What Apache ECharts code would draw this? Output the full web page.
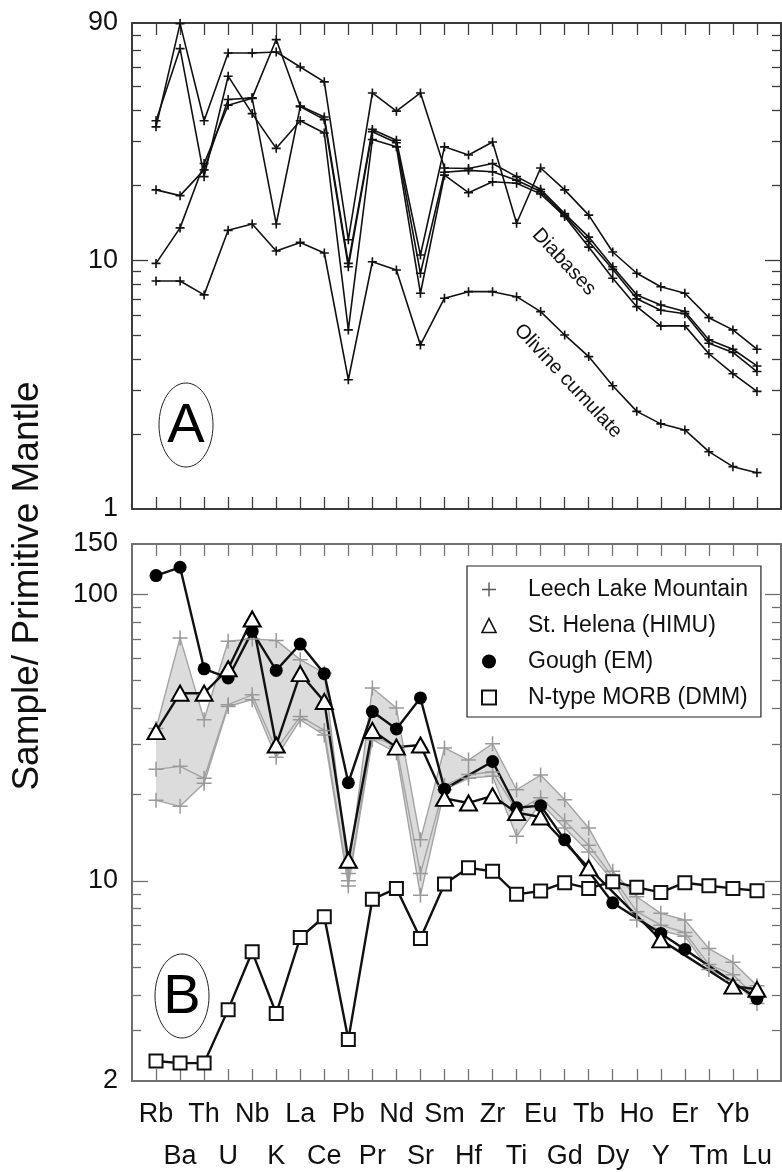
<!DOCTYPE html>
<html>
<head>
<meta charset="utf-8">
<script src="https://cdn.jsdelivr.net/npm/echarts@6/dist/echarts.min.js"></script>
<style>
html, body { margin: 0; padding: 0; background: #fff; }
#viz { width: 782px; height: 1172px; }
</style>
</head>
<body>
<div id="viz"></div>
<script>
var FONT = '"Liberation Sans", Arial, sans-serif';

// element order along the x axis
var elements = ['Rb','Ba','Th','U','Nb','K','La','Ce','Pb','Pr','Nd','Sr','Sm','Hf','Zr','Ti','Eu','Gd','Tb','Dy','Ho','Y','Er','Tm','Yb','Lu'];

// panel A : sample / primitive mantle
var diabase1 = [34.4, 89.5, 36.4, 68.2, 68.2, 68.8, 59.9, 52.2, 12.1, 47.1, 39.8, 47.1, 23.5, 23.4, 24.5, 21.7, 19.3, 15.4, 12.4, 9.42, 7.26, 6.61, 6.22, 4.79, 4.39, 3.76];
var diabase2 = [36.4, 71.0, 21.7, 55.0, 38.9, 28.2, 36.4, 32.5, 5.25, 30.6, 28.6, 7.37, 22.0, 18.7, 20.7, 20.4, 18.5, 15.0, 11.3, 8.47, 6.51, 5.45, 5.45, 4.21, 3.50, 2.97];
var diabase3 = [19.2, 18.2, 23.1, 44.3, 45.0, 77.2, 41.7, 37.7, 9.72, 33.6, 30.4, 10.5, 28.6, 26.5, 29.9, 14.1, 23.5, 19.2, 15.2, 10.8, 8.87, 7.83, 7.37, 5.88, 5.25, 4.39];
var diabase4 = [9.72, 13.5, 24.5, 42.0, 44.8, 14.0, 41.5, 36.8, 9.42, 32.9, 29.7, 8.87, 22.6, 23.0, 22.7, 21.0, 18.9, 15.2, 11.9, 9.20, 7.00, 6.30, 6.10, 4.64, 4.26, 3.57];
var olivine  = [8.26, 8.26, 7.26, 13.2, 14.0, 10.9, 11.8, 10.7, 3.31, 9.87, 9.14, 4.57, 7.04, 7.48, 7.48, 7.14, 6.22, 5.01, 4.10, 3.13, 2.47, 2.20, 2.08, 1.70, 1.48, 1.40];

// panel B
var llmHigh = [34.0, 70.5, 36.5, 68.6, 69.9, 69.1, 59.2, 53.1, 10.6, 47.1, 40.1, 13.9, 29.1, 26.4, 30.1, 20.8, 23.4, 19.2, 15.3, 10.8, 8.80, 7.70, 7.30, 5.80, 5.20, 4.30];
var llmMid  = [24.5, 25.1, 22.8, 41.2, 44.6, 28.7, 37.5, 33.5, 10.0, 32.0, 29.5, 10.6, 21.5, 23.5, 24.0, 17.6, 19.5, 16.2, 13.3, 10.3, 7.80, 7.00, 6.60, 5.10, 4.70, 3.90];
var llmLow  = [19.1, 18.2, 21.9, 40.6, 42.9, 27.0, 36.5, 32.3, 9.60, 31.1, 28.0, 8.90, 20.8, 22.8, 23.2, 14.3, 18.7, 15.3, 12.6, 10.0, 7.30, 6.70, 6.40, 4.90, 4.50, 3.73];
var helena  = [33.2, 45.2, 45.2, 55.0, 82.1, 29.8, 52.9, 42.3, 11.8, 33.5, 29.3, 29.8, 19.4, 18.7, 19.8, 17.3, 16.7, null, 11.1, null, null, 6.22, null, null, 4.29, 4.18];
var gough   = [116.4, 124.4, 55.0, 51.1, 74.3, 54.3, 67.1, 52.9, 22.0, 39.0, 33.9, 43.5, 20.9, null, 26.1, 18.0, 18.3, 13.9, null, 8.38, null, 6.55, 5.76, null, null, 3.88];
var morb    = [2.35, 2.31, 2.31, 3.55, 5.65, 3.44, 6.34, 7.49, 2.79, 8.62, 9.41, 6.29, 9.74, 11.1, 10.8, 8.97, 9.21, 9.85, 9.41, 9.93, 9.49, 9.11, 9.85, 9.61, 9.41, 9.23];

// y axis ticks / labels
var labelsA = [1, 10, 90];
var majorA = [10];
var minorA = [2, 3, 4, 5, 6, 7, 8, 9, 20, 30, 40, 50, 60, 70, 80];
var labelsB = [2, 10, 100, 150];
var majorB = [10, 100];
var minorB = [3, 4, 5, 6, 7, 8, 9, 20, 30, 40, 50, 60, 70, 80, 90];

var crossA = 'path://M4.1,0h1.8v10h-1.8z M0,4.1h10v1.8h-10z';
var crossB = 'path://M4.5,0h1v10h-1z M0,4.5h10v1h-10z';

function pairs(vals){
  return vals.map(function(v, i){ return [i, v]; });
}

function xAxes(grid, color, withLabels){
  var idx = elements.map(function(e, i){ return i; });
  var base = {gridIndex: grid, type: 'value', min: -1, max: 26, splitLine: {show: false}};
  var tick = {show: true, inside: true, length: 12, customValues: idx, lineStyle: {color: color, width: 1.3}};
  var line = {show: true, onZero: false, lineStyle: {color: color, width: 2}};
  var out = [
    Object.assign({}, base, {position: 'bottom', axisLine: line, axisTick: tick, axisLabel: {show: false}}),
    Object.assign({}, base, {position: 'top', axisLine: line, axisTick: tick, axisLabel: {show: false}})
  ];
  if (withLabels){
    // element names in two staggered rows: even indices on top, odd below
    [0, 1].forEach(function(row){
      var vals = idx.filter(function(i){ return i % 2 === row; });
      out.push(Object.assign({}, base, {
        position: 'bottom',
        axisLine: {show: false, onZero: false},
        axisTick: {show: false},
        axisLabel: {
          show: true, customValues: vals, margin: row === 0 ? 20 : 62,
          fontSize: 27, fontFamily: FONT, color: '#111',
          showMinLabel: true, showMaxLabel: true,
          formatter: function(v){ return elements[Math.round(v)]; }
        }
      }));
    });
  }
  return out;
}

function yAxes(grid, lo, hi, labels, major, minor, color){
  var base = {gridIndex: grid, type: 'log', logBase: 10, min: lo, max: hi, splitLine: {show: false}, minorTick: {show: false}};
  var out = [];
  ['left', 'right'].forEach(function(pos){
    out.push(Object.assign({}, base, {
      position: pos,
      axisLine: {show: true, onZero: false, lineStyle: {color: color, width: 2}},
      axisTick: {show: true, inside: true, length: 16, customValues: major, lineStyle: {color: color, width: 1.3}},
      axisLabel: pos === 'left'
        ? {show: true, customValues: labels, margin: 14, fontSize: 27, fontFamily: FONT, color: '#111', showMinLabel: true, showMaxLabel: true}
        : {show: false}
    }));
    out.push(Object.assign({}, base, {
      position: pos,
      axisLine: {show: false, onZero: false},
      axisTick: {show: true, inside: true, length: 9, customValues: minor, lineStyle: {color: color, width: 1.3}},
      axisLabel: {show: false}
    }));
  });
  return out;
}

function topLine(name, vals){
  return {
    name: name, type: 'line', xAxisIndex: 0, yAxisIndex: 0,
    data: pairs(vals), symbol: crossA, symbolSize: 9, showAllSymbol: true,
    itemStyle: {color: '#111'}, lineStyle: {color: '#111', width: 1.6}
  };
}

function greyLine(vals){
  return {
    name: 'Leech Lake Mountain', type: 'line', xAxisIndex: 2, yAxisIndex: 4,
    data: pairs(vals), symbol: crossB, symbolSize: 15, showAllSymbol: true,
    itemStyle: {color: '#999'}, lineStyle: {color: '#a3a3a3', width: 1.4}
  };
}

var bandHigh = elements.map(function(e, i){ return Math.max(llmHigh[i], llmMid[i], llmLow[i]); });
var bandLow = elements.map(function(e, i){ return Math.min(llmHigh[i], llmMid[i], llmLow[i]); });

var myChart = echarts.init(document.getElementById('viz'));

var option = {
  animation: false,
  backgroundColor: '#fff',
  grid: [
    {left: 132, top: 23, width: 649, height: 486, outerBoundsMode: 'none'},
    {left: 132, top: 544, width: 649, height: 537, outerBoundsMode: 'none'}
  ],
  xAxis: xAxes(0, '#3c3c3c', false).concat(xAxes(1, '#707070', true)),
  yAxis: yAxes(0, 1, 90, labelsA, majorA, minorA, '#3c3c3c').concat(yAxes(1, 2, 150, labelsB, majorB, minorB, '#707070')),
  legend: {
    orient: 'vertical', left: 467, top: 566,
    padding: [12, 13, 8, 14], itemGap: 13, itemWidth: 14, itemHeight: 14,
    borderColor: '#222', borderWidth: 1.2, backgroundColor: '#fff',
    selectedMode: false,
    textStyle: {fontSize: 23, fontFamily: FONT, color: '#111', padding: [0, 0, 0, 27]},
    data: [
      {name: 'Leech Lake Mountain', icon: crossB, itemStyle: {color: '#555', borderWidth: 0}},
      {name: 'St. Helena (HIMU)', icon: 'triangle', itemStyle: {color: '#fff', borderColor: '#111', borderWidth: 1.6}},
      {name: 'Gough (EM)', icon: 'circle', itemStyle: {color: '#000', borderWidth: 0}},
      {name: 'N-type MORB (DMM)', icon: 'rect', itemStyle: {color: '#fff', borderColor: '#111', borderWidth: 2}}
    ]
  },
  graphic: [
    {type: 'text', x: 28, y: 586, rotation: Math.PI / 2,
     style: {text: 'Sample/ Primitive Mantle', fontSize: 37, fontFamily: FONT, fill: '#111', align: 'center', verticalAlign: 'middle'}},
    {type: 'ellipse', shape: {cx: 186, cy: 425, rx: 27, ry: 42}, style: {fill: 'none', stroke: '#222', lineWidth: 1}},
    {type: 'text', x: 186, y: 427, style: {text: 'A', fontSize: 56, fontFamily: FONT, fill: '#000', align: 'center', verticalAlign: 'middle'}},
    {type: 'ellipse', shape: {cx: 182, cy: 996, rx: 27, ry: 42}, style: {fill: 'none', stroke: '#222', lineWidth: 1}},
    {type: 'text', x: 182, y: 998, style: {text: 'B', fontSize: 56, fontFamily: FONT, fill: '#000', align: 'center', verticalAlign: 'middle'}},
    {type: 'text', x: 564, y: 262, rotation: -47 * Math.PI / 180,
     style: {text: 'Diabases', fontSize: 20, fontFamily: FONT, fill: '#111', align: 'center', verticalAlign: 'middle'}},
    {type: 'text', x: 568, y: 381, rotation: -47 * Math.PI / 180,
     style: {text: 'Olivine cumulate', fontSize: 20, fontFamily: FONT, fill: '#111', align: 'center', verticalAlign: 'middle'}}
  ],
  series: [
    topLine('Diabase 1', diabase1),
    topLine('Diabase 2', diabase2),
    topLine('Diabase 3', diabase3),
    topLine('Diabase 4', diabase4),
    topLine('Olivine cumulate', olivine),
    {
      // grey range of the Leech Lake Mountain samples
      name: 'LLM range', type: 'custom', xAxisIndex: 2, yAxisIndex: 4, silent: true,
      data: [[0, bandHigh[0]]],
      renderItem: function(params, api){
        var pts = [];
        for (var i = 0; i < elements.length; i++) pts.push(api.coord([i, bandHigh[i]]));
        for (var j = elements.length - 1; j >= 0; j--) pts.push(api.coord([j, bandLow[j]]));
        return {type: 'polygon', shape: {points: pts}, style: {fill: '#dcdcdc', stroke: 'none'}};
      }
    },
    greyLine(llmHigh),
    greyLine(llmMid),
    greyLine(llmLow),
    {
      name: 'N-type MORB (DMM)', type: 'line', xAxisIndex: 2, yAxisIndex: 4,
      data: pairs(morb), symbol: 'rect', symbolSize: 13, showAllSymbol: true,
      itemStyle: {color: '#fff', borderColor: '#111', borderWidth: 2},
      lineStyle: {color: '#111', width: 2.4}
    },
    {
      name: 'Gough (EM)', type: 'line', xAxisIndex: 2, yAxisIndex: 4, connectNulls: true,
      data: pairs(gough), symbol: 'circle', symbolSize: 13, showAllSymbol: true,
      itemStyle: {color: '#000'},
      lineStyle: {color: '#111', width: 2.4}
    },
    {
      name: 'St. Helena (HIMU)', type: 'line', xAxisIndex: 2, yAxisIndex: 4, connectNulls: true,
      data: pairs(helena), symbol: 'triangle', symbolSize: [17, 15], showAllSymbol: true,
      itemStyle: {color: '#fff', borderColor: '#000', borderWidth: 2},
      lineStyle: {color: '#111', width: 2.4}
    }
  ]
};

myChart.setOption(option);
</script>
</body>
</html>
